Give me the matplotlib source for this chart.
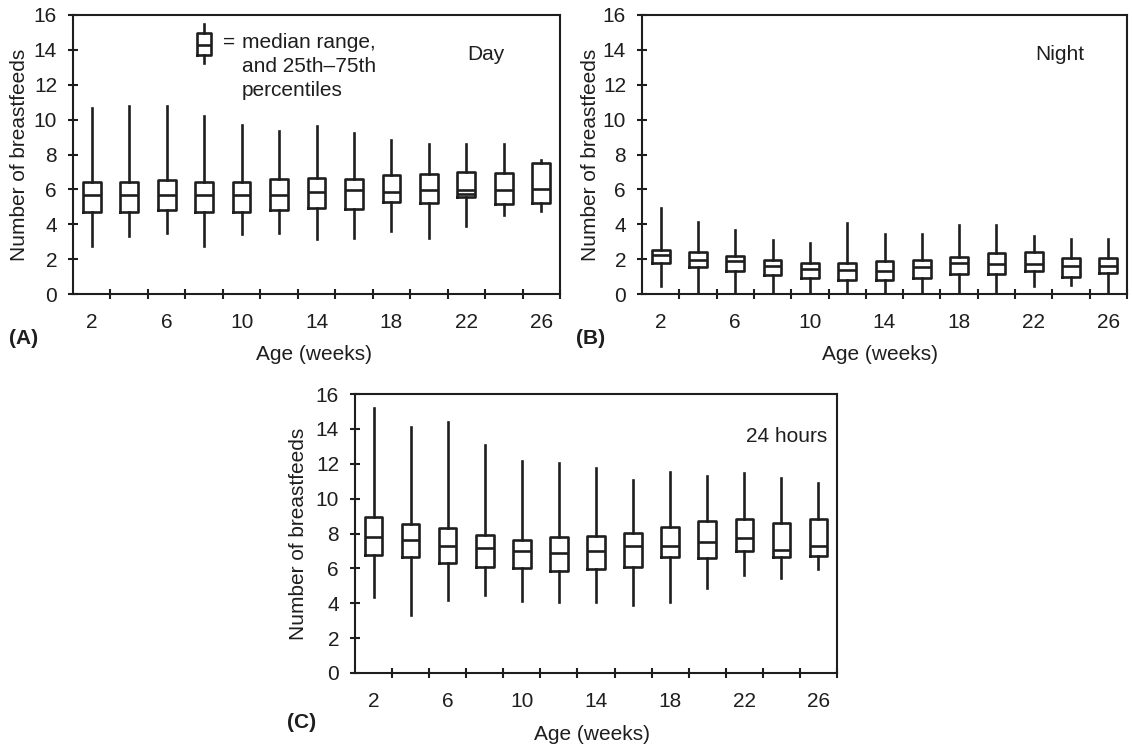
import matplotlib
matplotlib.use("Agg")
import matplotlib.pyplot as plt

plt.rcParams['font.family'] = ['Liberation Sans', 'DejaVu Sans']

# ---------------- data ----------------
weeks = [2, 4, 6, 8, 10, 12, 14, 16, 18, 20, 22, 24, 26]

day_low = [2.76, 3.30, 3.47, 2.76, 3.43, 3.52, 3.18, 3.24, 3.62, 3.24, 3.90, 4.51, 4.76]
day_q1 = [4.72, 4.72, 4.82, 4.72, 4.72, 4.82, 4.95, 4.86, 5.28, 5.20, 5.58, 5.14, 5.24]
day_med = [5.66, 5.66, 5.66, 5.66, 5.66, 5.66, 5.85, 5.96, 5.87, 5.96, 5.75, 5.96, 6.04]
day_q3 = [6.44, 6.44, 6.53, 6.44, 6.44, 6.57, 6.67, 6.57, 6.82, 6.91, 7.01, 6.95, 7.52]
day_high = [10.67, 10.80, 10.76, 10.19, 9.71, 9.33, 9.62, 9.24, 8.86, 8.61, 8.63, 8.63, 7.71]
day_med_upper = {22: 5.96}  # second line of the median range

night_low = [0.44, 0.0, 0.0, 0.0, 0.0, 0.0, 0.0, 0.0, 0.0, 0.0, 0.44, 0.53, 0.0]
night_q1 = [1.75, 1.56, 1.30, 1.09, 0.90, 0.80, 0.82, 0.90, 1.14, 1.14, 1.33, 0.95, 1.20]
night_med = [2.23, 1.96, 1.87, 1.62, 1.43, 1.37, 1.33, 1.56, 1.75, 1.71, 1.71, 1.62, 1.62]
night_q3 = [2.53, 2.38, 2.19, 1.96, 1.75, 1.75, 1.87, 1.94, 2.13, 2.34, 2.38, 2.06, 2.06]
night_high = [4.95, 4.13, 3.68, 3.10, 2.90, 4.06, 3.43, 3.43, 3.96, 3.96, 3.33, 3.14, 3.14]

h24_low = [4.33, 3.30, 4.20, 4.45, 4.14, 4.09, 4.09, 3.91, 4.09, 4.87, 5.63, 5.44, 5.96]
h24_q1 = [6.78, 6.68, 6.30, 6.07, 6.05, 5.86, 5.96, 6.07, 6.68, 6.59, 6.97, 6.64, 6.72]
h24_med = [7.79, 7.60, 7.29, 7.16, 7.01, 6.87, 7.01, 7.29, 7.31, 7.54, 7.77, 7.06, 7.26]
h24_q3 = [8.97, 8.55, 8.34, 7.92, 7.64, 7.79, 7.87, 8.02, 8.40, 8.73, 8.82, 8.59, 8.84]
h24_high = [15.18, 14.09, 14.42, 13.08, 12.16, 12.07, 11.74, 11.04, 11.51, 11.30, 11.49, 11.17, 10.92]

# legend icon (schematic box)
icon_week = 8.0
icon_stats = dict(whislo=13.25, q1=13.70, med=14.28, q3=14.97, whishi=15.48)

xtick_labels = [2, 6, 10, 14, 18, 22, 26]
minor_ticks = list(range(3, 28, 2))
yticks = list(range(0, 17, 2))

# ---------------- layout ----------------
W, H = 1132, 751
INK = '#1e1e1e'
FS = 15
LW = 1.9


def rect(l, t, r, b):
    return [l / W, 1 - b / H, (r - l) / W, (b - t) / H]


def fp(x, y):
    return x / W, 1 - y / H


fig = plt.figure(figsize=(W / 100, H / 100), dpi=100)
axA = fig.add_axes(rect(73, 15, 560, 294))
axB = fig.add_axes(rect(642, 15, 1127, 294))
axC = fig.add_axes(rect(355, 394, 837, 673))

box_kw = dict(showcaps=False, showfliers=False, patch_artist=False,
              boxprops=dict(color=INK, linewidth=LW),
              whiskerprops=dict(color=INK, linewidth=LW),
              medianprops=dict(color=INK, linewidth=LW),
              manage_ticks=False)


def stats_from(low, q1, med, q3, high):
    return [dict(whislo=a, q1=b, med=c, q3=d, whishi=e)
            for a, b, c, d, e in zip(low, q1, med, q3, high)]


def style(ax):
    ax.set_xlim(1, 27)
    ax.set_ylim(0, 16)
    ax.set_yticks(yticks)
    ax.set_xticks(xtick_labels)
    ax.set_xticklabels([str(v) for v in xtick_labels])
    ax.set_xticks(minor_ticks, minor=True)
    ax.tick_params(axis='x', which='major', length=0, pad=13.5,
                   labelsize=FS, labelcolor=INK)
    ax.tick_params(axis='x', which='minor', length=7, width=1.5,
                   direction='inout', color=INK)
    ax.tick_params(axis='y', which='major', length=7, width=1.5,
                   direction='inout', color=INK, pad=8,
                   labelsize=FS, labelcolor=INK)
    for s in ax.spines.values():
        s.set_color(INK)
        s.set_linewidth(1.5)


axA.bxp(stats_from(day_low, day_q1, day_med, day_q3, day_high),
        positions=weeks, widths=0.95, **box_kw)
for wk, val in day_med_upper.items():
    axA.hlines(val, wk - 0.475, wk + 0.475, color=INK, linewidth=LW)
axB.bxp(stats_from(night_low, night_q1, night_med, night_q3, night_high),
        positions=weeks, widths=0.95, **box_kw)
axC.bxp(stats_from(h24_low, h24_q1, h24_med, h24_q3, h24_high),
        positions=weeks, widths=0.95, **box_kw)

# legend icon
axA.bxp([icon_stats], positions=[icon_week], widths=0.75, **box_kw)

for ax in (axA, axB, axC):
    style(ax)

# annotations inside panels
fig.text(*fp(223, 48), "=", fontsize=FS, color=INK, ha='left', va='baseline')
fig.text(*fp(242, 48), "median range,", fontsize=FS, color=INK, ha='left', va='baseline')
fig.text(*fp(242, 72), "and 25th\u201375th", fontsize=FS, color=INK, ha='left', va='baseline')
fig.text(*fp(242, 96), "percentiles", fontsize=FS, color=INK, ha='left', va='baseline')

fig.text(*fp(486, 55), "Day", fontsize=FS, color=INK, ha='center', va='center')
fig.text(*fp(1060, 55), "Night", fontsize=FS, color=INK, ha='center', va='center')
fig.text(*fp(827, 436), "24 hours", fontsize=FS, color=INK, ha='right', va='center')

# axis labels
for (x, y) in [(20, 155), (590, 155), (298, 534)]:
    fig.text(*fp(x, y), "Number of breastfeeds", fontsize=FS, color=INK,
             rotation=90, ha='center', va='center')
for (x, y) in [(314, 354), (880, 354), (592, 735)]:
    fig.text(*fp(x, y), "Age (weeks)", fontsize=FS, color=INK,
             ha='center', va='center')

# panel letters
for (x, y, s) in [(24, 338, "(A)"), (591, 338, "(B)"), (302, 722, "(C)")]:
    fig.text(*fp(x, y), s, fontsize=FS, color=INK, fontweight='bold',
             ha='center', va='center')

fig.savefig("out.png", dpi=100)
